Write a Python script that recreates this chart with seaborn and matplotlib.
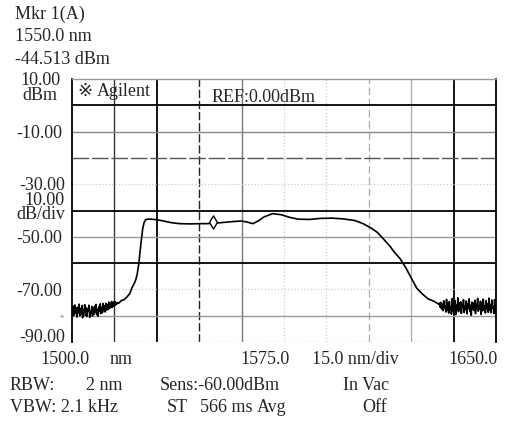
import numpy as np
import pandas as pd
import matplotlib
matplotlib.use("Agg")
import matplotlib.pyplot as plt
import seaborn as sns

# ---------------- data ----------------
marker_nm = 1550.0
marker_dbm = -44.513

# left noise floor, 1500 .. 1516 nm in 0.25 nm steps
noise_left_range = (1500.0, 1516.0)
noise_left_dbm = [
    -77.5, -80.2, -76.4, -79.8, -75.9, -79.1, -77.0, -80.5, -76.8, -78.9,
    -75.6, -80.0, -77.3, -79.4, -76.1, -80.8, -77.8, -78.6, -75.8, -79.9,
    -76.9, -80.3, -77.4, -78.2, -76.0, -80.6, -78.1, -79.0, -76.5, -80.1,
    -77.2, -79.5, -76.3, -78.8, -75.7, -79.6, -77.6, -80.2, -76.6, -78.4,
    -75.5, -79.2, -76.8, -78.9, -75.4, -78.1, -76.2, -78.6, -75.3, -77.9,
    -75.9, -77.6, -74.8, -77.2, -75.6, -76.9, -74.6, -76.8, -75.0, -76.4,
    -74.5, -76.1, -74.9, -75.7, -75.0,
]

# main trace (rise, plateau, roll-off)
main_nm = [1516.5, 1517.5, 1518.5, 1519.5, 1520.5, 1521.2, 1522.0, 1522.6,
           1523.1, 1523.6, 1524.0, 1524.5, 1525.0, 1525.5, 1526.0, 1526.5,
           1528, 1530, 1532, 1535, 1538, 1542, 1545, 1548, 1549.5, 1550,
           1550.5, 1553, 1557, 1560, 1562, 1564, 1566, 1568, 1571, 1574,
           1577, 1580, 1584, 1588, 1592, 1596, 1600, 1603, 1606, 1608,
           1610, 1612.5, 1614, 1616, 1618, 1620, 1622, 1624, 1626, 1628,
           1629.75]
main_dbm = [-75.3, -74.2, -73.9, -72.8, -71.5, -69.4, -67.8, -66.2,
            -64.0, -60.5, -56.5, -51.5, -47.0, -44.6, -43.6, -43.3,
            -43.3, -43.5, -43.9, -44.6, -45.0, -45.1, -45.0, -45.0, -44.8, -44.5,
            -44.8, -44.6, -44.2, -44.0, -44.4, -45.0, -43.9, -42.4, -41.2, -41.6,
            -42.6, -43.3, -43.4, -43.0, -42.9, -43.2, -43.8, -45.0, -46.8, -48.3,
            -50.6, -53.6, -55.8, -58.2, -61.6, -65.6, -69.6, -71.8, -73.6, -74.5,
            -75.6]

# right noise floor, 1630 .. 1650 nm in 0.25 nm steps
noise_right_range = (1630.0, 1650.0)
noise_right_dbm = [
    -75.2, -76.8, -74.9, -77.5, -75.6, -78.1, -74.3, -77.0, -76.2, -78.6,
    -73.8, -77.9, -75.4, -79.0, -74.6, -77.3, -76.5, -79.4, -73.5, -78.2,
    -75.8, -77.1, -74.2, -79.6, -76.0, -77.8, -73.2, -78.5, -75.1, -77.4,
    -74.7, -79.1, -75.9, -76.6, -73.9, -78.8, -76.3, -77.7, -74.4, -79.3,
    -75.5, -77.2, -73.6, -78.4, -76.1, -79.8, -74.8, -77.6, -75.3, -78.0,
    -74.1, -79.2, -75.7, -76.9, -73.4, -78.3, -76.4, -77.5, -74.5, -79.5,
    -75.0, -78.1, -73.7, -77.8, -76.2, -79.0, -74.3, -77.4, -75.6, -78.7,
    -73.3, -77.9, -75.8, -78.9, -74.0, -77.0, -76.7, -79.2, -73.9, -78.4,
    -75.5,
]

y_tick_values = [-10, -50, -70]
y_tick_labels = ["-10.00", "-50.00", "-70.00"]

header_lines = ["Mkr 1(A)", "1550.0 nm", "-44.513 dBm"]

# ---------------- build table ----------------
nl = np.linspace(*noise_left_range, len(noise_left_dbm))
nr = np.linspace(*noise_right_range, len(noise_right_dbm))
df = pd.DataFrame({
    "nm": np.concatenate([nl, main_nm, nr]),
    "dBm": np.concatenate([noise_left_dbm, main_dbm, noise_right_dbm]),
})

# ---------------- figure ----------------
sns.set_style("white")
plt.rcParams["font.family"] = ["Liberation Serif", "DejaVu Sans"]
W, H = 509, 428
fig = plt.figure(figsize=(W / 100, H / 100), dpi=100)
L, R, T, B = 72, 496, 79, 342
ax = fig.add_axes([L / W, 1 - B / H, (R - L) / W, (B - T) / H])
ax.set_xlim(1500, 1650)
ax.set_ylim(-90, 10)

# grid lines (styled like the scanned display)
vgrid = [(1515, "#333333", "-", 1.0), (1530, "#000000", "-", 1.3),
         (1545, "#222222", (0, (6, 2)), 1.0), (1560, "#777777", "-", 1.0),
         (1575, "#cccccc", ":", 0.9), (1590, "#cccccc", ":", 0.9),
         (1605, "#aaaaaa", (0, (6, 3)), 0.9), (1620, "#aaaaaa", "-", 0.9),
         (1635, "#000000", "-", 1.3)]
hgrid = [(0, "#000000", "-", 1.3), (-10, "#888888", "-", 1.0),
         (-20, "#555555", (0, (12, 2)), 1.0), (-30, "#cccccc", ":", 0.9),
         (-40, "#000000", "-", 1.3), (-50, "#999999", "-", 1.0),
         (-60, "#000000", "-", 1.3), (-70, "#cccccc", ":", 0.9),
         (-80, "#999999", "-", 1.0), (-90, "#bbbbbb", ":", 1.0)]
for v, c, ls, lw in vgrid:
    ax.axvline(v, color=c, ls=ls, lw=lw, zorder=1)
for v, c, ls, lw in hgrid:
    ax.axhline(v, color=c, ls=ls, lw=lw, zorder=1)

sns.lineplot(data=df, x="nm", y="dBm", color="black", lw=1.2,
             estimator=None, sort=False, ax=ax, zorder=3)
sns.scatterplot(x=[marker_nm], y=[marker_dbm], marker="d", s=45,
                facecolor="white", edgecolor="black", linewidth=1.0,
                ax=ax, zorder=4)

for side in ["left", "right"]:
    ax.spines[side].set_color("black")
    ax.spines[side].set_linewidth(1.3)
ax.spines["top"].set_color("#999999")
ax.spines["top"].set_linewidth(1.0)
ax.spines["bottom"].set_visible(False)

fs = 13
ax.set_yticks(y_tick_values)
ax.set_yticklabels(y_tick_labels, fontsize=fs)
ax.tick_params(axis="y", length=0, pad=7)
ax.set_xticks([])
ax.set_xlabel("")
ax.set_ylabel("")


def ftext(x, y, s, ha="left", **kw):
    fig.text(x / W, 1 - y / H, s, ha=ha, va="center",
             fontsize=kw.pop("size", fs), **kw)


# header
for i, s in enumerate(header_lines):
    ftext(15, 14 + 22.5 * i, s)
ftext(40, 88, "10.00\ndBm", ha="center", multialignment="center",
      linespacing=0.82)
ftext(65, 200, "-30.00\n10.00\ndB/div", ha="right", multialignment="right",
      linespacing=0.8)
ftext(65, 338, "-90.00", ha="right")
ftext(64, 316, "»", ha="right", size=6, color="#666666")

ftext(77, 92, "※", size=13)
ftext(97, 92, "Agilent")
ftext(212, 97, "REF:0.00dBm")

# x labels
ftext(40, 359, "1500.0")
ftext(110, 359, "nm")
ftext(240, 359, "1575.0")
ftext(312, 359, "15.0 nm/div")
ftext(448, 359, "1650.0")

# settings rows
ftext(10, 386, "RBW:")
ftext(86, 386, "2 nm")
ftext(160, 386, "Sens:-60.00dBm")
ftext(343, 386, "In Vac")
ftext(10, 408, "VBW: 2.1 kHz")
ftext(167, 408, "ST")
ftext(200, 408, "566 ms")
ftext(257, 408, "Avg")
ftext(362, 408, "Off")

fig.savefig("out.png", dpi=100, facecolor="white")
